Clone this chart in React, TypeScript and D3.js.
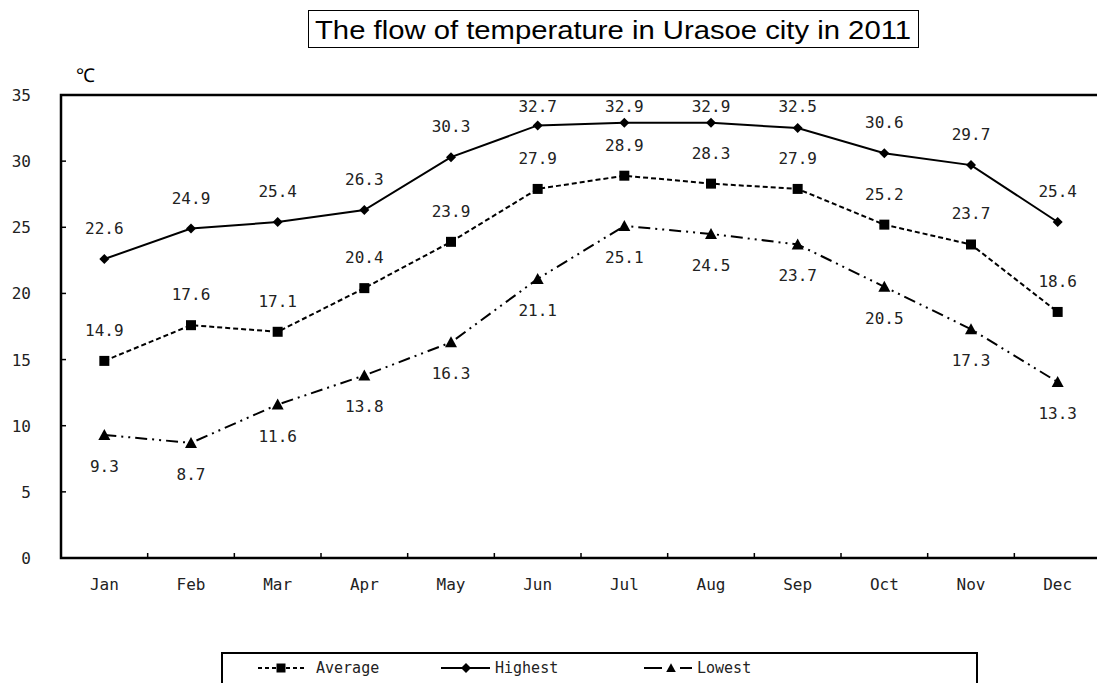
import React from "react";
import * as d3 from "d3";

const months = ["Jan", "Feb", "Mar", "Apr", "May", "Jun", "Jul", "Aug", "Sep", "Oct", "Nov", "Dec"];
const averageVals = [14.9, 17.6, 17.1, 20.4, 23.9, 27.9, 28.9, 28.3, 27.9, 25.2, 23.7, 18.6];
const highestVals = [22.6, 24.9, 25.4, 26.3, 30.3, 32.7, 32.9, 32.9, 32.5, 30.6, 29.7, 25.4];
const lowestVals = [9.3, 8.7, 11.6, 13.8, 16.3, 21.1, 25.1, 24.5, 23.7, 20.5, 17.3, 13.3];
const yTicks = [0, 5, 10, 15, 20, 25, 30, 35];

const W = 1097;
const H = 683;
const left = 61;
const right = 1101;
const top = 95;
const bottom = 558;
const monoFont = "'DejaVu Sans Mono', 'Liberation Mono', monospace";
const titleFont = "'Liberation Sans', Arial, sans-serif";

export default function App() {
  const x = d3.scaleBand<string>().domain(months).range([left, right]).padding(0);
  const y = d3.scaleLinear().domain([0, 35]).range([bottom, top]);
  const cx = (m: string) => (x(m) as number) + x.bandwidth() / 2;
  const line = d3
    .line<number>()
    .x((_, i) => cx(months[i]))
    .y((d) => y(d));

  const square = d3.symbol(d3.symbolSquare, 100)() as string;
  const diamond = "M0,-5L5,0L0,5L-5,0Z";
  const triangle = "M0,-6L6,5L-6,5Z";
  const fs = 16;

  return (
    <svg
      width={W}
      height={H}
      style={{ position: "absolute", left: 0, top: 0, background: "#fff", overflow: "hidden" }}
      fontFamily={monoFont}
    >
      <rect x={0} y={0} width={W} height={H} fill="#fff" />
      {/* Title */}
      <rect x={308.5} y={10.5} width={610} height={37} fill="#fff" stroke="#000" strokeWidth={1} />
      <text
        x={613}
        y={39}
        textAnchor="middle"
        fontSize={26}
        fill="#000"
        fontFamily={titleFont}
        textLength={596}
        lengthAdjust="spacingAndGlyphs"
      >
        The flow of temperature in Urasoe city in 2011
      </text>
      {/* unit */}
      <text x={85} y={82} textAnchor="middle" fontSize={19} fill="#000">℃</text>

      {/* y ticks & labels */}
      {yTicks.map((t) => (
        <g key={t}>
          <text x={31} y={y(t) + 6} textAnchor="end" fontSize={fs} fill="#222">
            {t}
          </text>
          {t > 0 && t < 35 && <line x1={left} x2={left + 5} y1={y(t)} y2={y(t)} stroke="#000" strokeWidth={1.5} />}
        </g>
      ))}
      {/* x ticks & labels */}
      {months.map((m, i) => (
        <g key={m}>
          {i > 0 && (
            <line
              x1={x(m) as number}
              x2={x(m) as number}
              y1={bottom}
              y2={bottom - 5}
              stroke="#000"
              strokeWidth={1.5}
            />
          )}
          <text x={cx(m)} y={bottom + 32} textAnchor="middle" fontSize={fs} fill="#222">
            {m}
          </text>
        </g>
      ))}
      {/* frame */}
      <path
        d={`M${right},${top}H${left}V${bottom}H${right}`}
        fill="none"
        stroke="#000"
        strokeWidth={2.5}
      />

      {/* Highest */}
      <path d={line(highestVals) as string} fill="none" stroke="#000" strokeWidth={2} />
      {/* Average */}
      <path d={line(averageVals) as string} fill="none" stroke="#000" strokeWidth={2} strokeDasharray="5,3" />
      {/* Lowest */}
      <path
        d={line(lowestVals) as string}
        fill="none"
        stroke="#000"
        strokeWidth={2}
        strokeDasharray="12,5,2,5,2,5"
      />

      {highestVals.map((v, i) => (
        <g key={"h" + i}>
          <path d={diamond} transform={`translate(${cx(months[i])},${y(v)})`} fill="#000" />
          <text x={cx(months[i])} y={Math.max(y(v) - 31, 106) + 6} textAnchor="middle" fontSize={fs} fill="#222">
            {v.toFixed(1)}
          </text>
        </g>
      ))}
      {averageVals.map((v, i) => (
        <g key={"a" + i}>
          <path d={square} transform={`translate(${cx(months[i])},${y(v)})`} fill="#000" />
          <text x={cx(months[i])} y={y(v) - 31 + 6} textAnchor="middle" fontSize={fs} fill="#222">
            {v.toFixed(1)}
          </text>
        </g>
      ))}
      {lowestVals.map((v, i) => (
        <g key={"l" + i}>
          <path d={triangle} transform={`translate(${cx(months[i])},${y(v)})`} fill="#000" />
          <text x={cx(months[i])} y={y(v) + 31 + 6} textAnchor="middle" fontSize={fs} fill="#222">
            {v.toFixed(1)}
          </text>
        </g>
      ))}

      {/* Legend */}
      <rect x={222} y={653} width={755} height={40} fill="#fff" stroke="#000" strokeWidth={2} />
      <g>
        <line x1={258} x2={305} y1={668} y2={668} stroke="#000" strokeWidth={2} strokeDasharray="4,3" />
        <path d={square} transform="translate(281,668) scale(0.9)" fill="#000" />
        <text x={316} y={673} fontSize={15} fill="#222">Average</text>

        <line x1={441} x2={490} y1={668} y2={668} stroke="#000" strokeWidth={2} />
        <path d={diamond} transform="translate(466,668)" fill="#000" />
        <text x={495} y={673} fontSize={15} fill="#222">Highest</text>

        <line x1={644} x2={662} y1={668} y2={668} stroke="#000" strokeWidth={2} />
        <line x1={680} x2={692} y1={668} y2={668} stroke="#000" strokeWidth={2} />
        <path d={triangle} transform="translate(671,668) scale(0.8)" fill="#000" />
        <text x={697} y={673} fontSize={15} fill="#222">Lowest</text>
      </g>
    </svg>
  );
}
